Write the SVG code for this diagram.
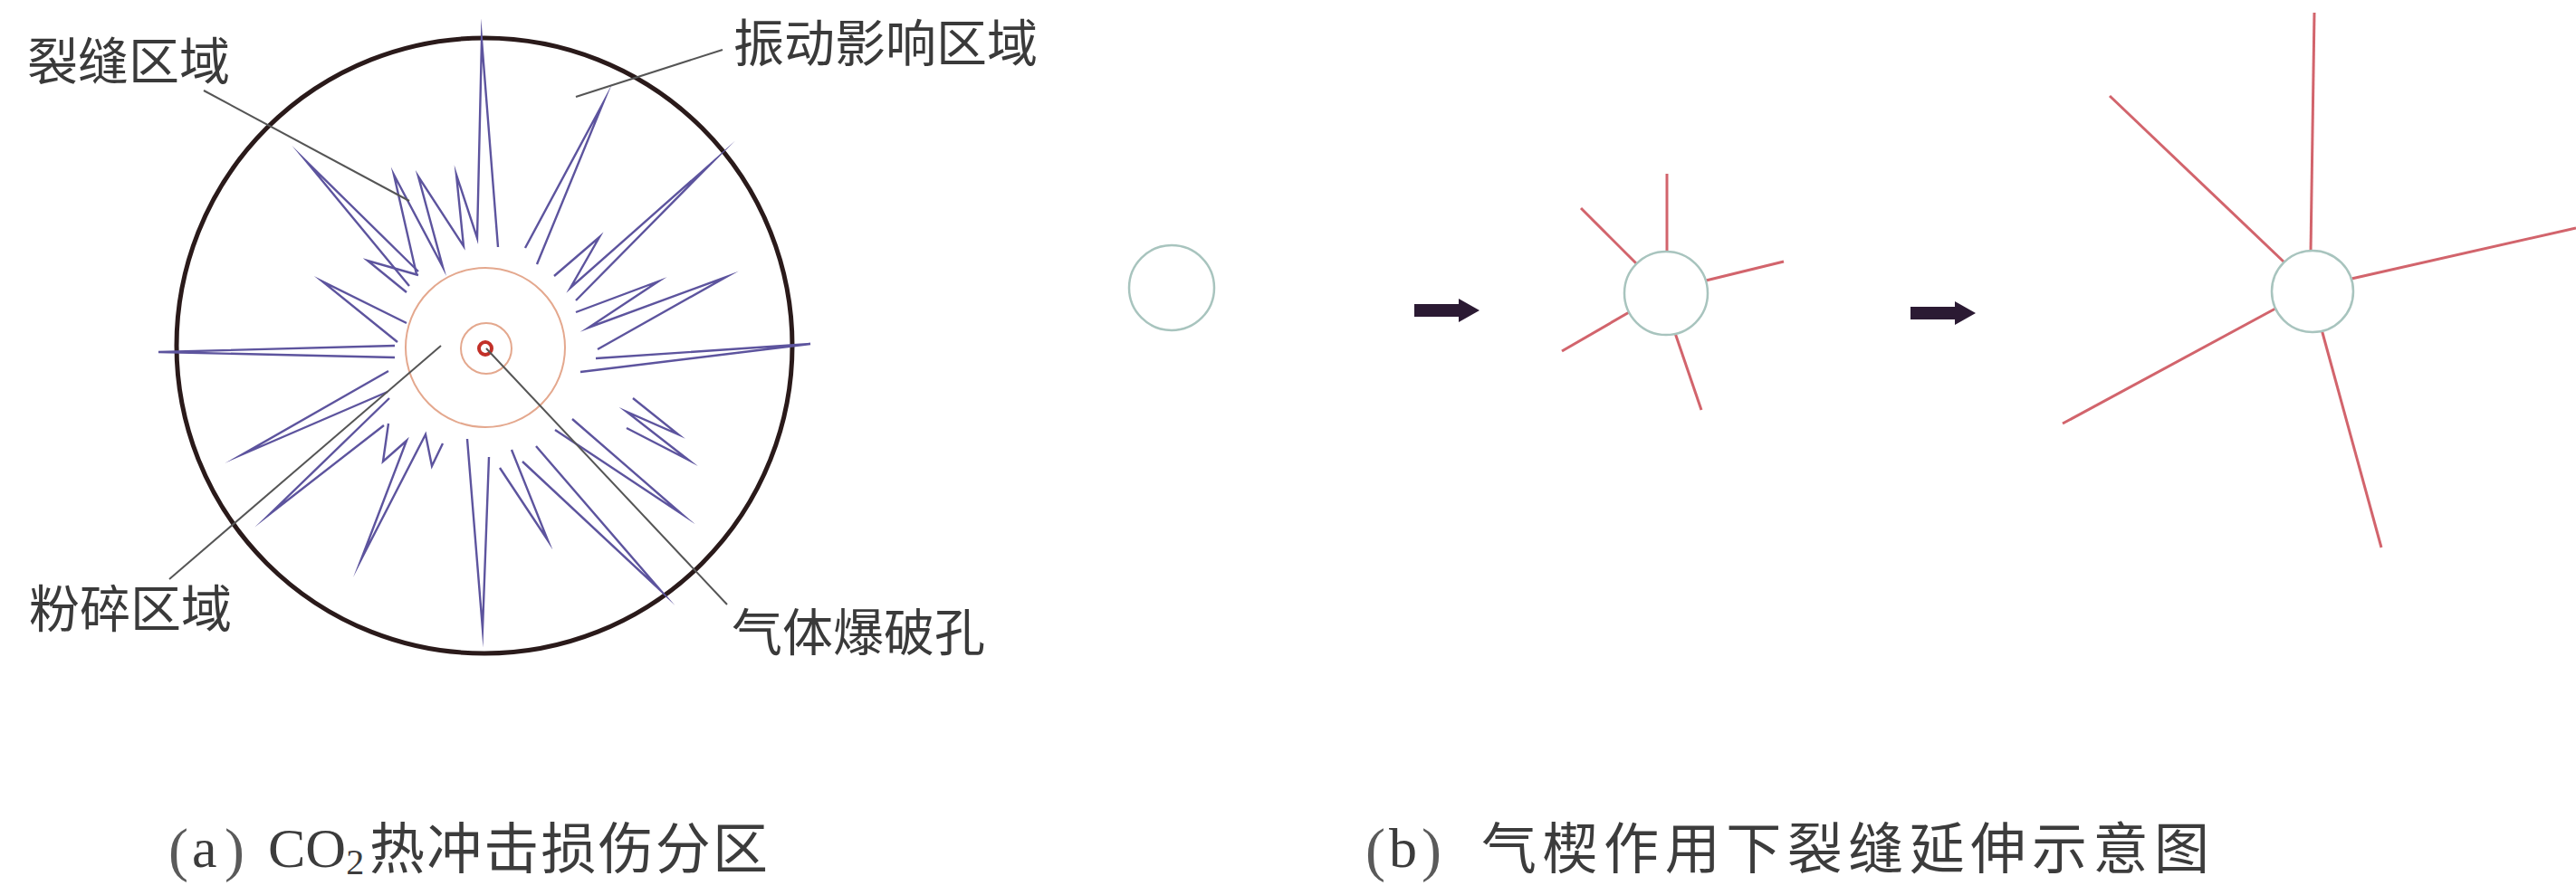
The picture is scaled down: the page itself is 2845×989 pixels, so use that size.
<svg xmlns="http://www.w3.org/2000/svg" width="2845" height="989" viewBox="0 0 2845 989">
  <style>
    .label { font-family: "Noto Sans CJK SC", "Liberation Sans", sans-serif; font-size: 56px; fill: #3a3a3a; }
    .cap { font-family: "Liberation Serif", "Noto Sans CJK SC", serif; font-size: 62px; fill: #3c3c3c; }
    .paren { font-family: "Liberation Serif", serif; font-size: 66px; fill: #5a5a5a; }
    .capcjk { font-family: "Noto Sans CJK SC", sans-serif; font-size: 61px; fill: #3c3c3c; }
    .crack { fill: none; stroke: #5d549e; stroke-width: 2.4; stroke-linejoin: miter; stroke-miterlimit: 30; }
    .leader { fill: none; stroke: #555; stroke-width: 2; }
    .zone { fill: none; stroke: #e4a88e; stroke-width: 2; }
    .hole { fill: #fff; stroke: #a8c4be; stroke-width: 2.5; }
    .wedge { stroke: #d2646c; stroke-width: 3; fill: none; }
    .step { fill: #2b1a33; }
  </style>

  <rect width="2845" height="989" fill="#fff"/>

  <!-- (a) damage zones around the CO2 blast hole -->
  <g id="zone-a">
    <circle id="vibration-boundary" cx="535" cy="382" r="340" fill="none" stroke="#2a1a1a" stroke-width="5"/>
    <g id="cracks">
      <polyline class="crack" points="460,303 435,193 489,295 462,195 512,272 504,193 527,263 532,44 550,273"/>
      <polyline class="crack" points="462,300 338,178 452,316"/>
      <polyline class="crack" points="449,323 406,288 462,304"/>
      <polyline class="crack" points="449,357 356,311 439,378"/>
      <polyline class="crack" points="436,382 175,389 436,395"/>
      <polyline class="crack" points="580,274 666,114 593,292"/>
      <polyline class="crack" points="612,305 662,262 630,318 786,180 636,332"/>
      <polyline class="crack" points="636,345 727,311 650,362 802,306 660,386"/>
      <polyline class="crack" points="658,396 895,380 641,411"/>
      <polyline class="crack" points="429,410 268,502 428,433"/>
      <polyline class="crack" points="430,440 298,568 424,470"/>
      <polyline class="crack" points="429,468 423,510 449,487 399,618 470,480 477,515 489,490"/>
      <polyline class="crack" points="516,485 533,695 540,505"/>
      <polyline class="crack" points="552,517 605,597 565,497"/>
      <polyline class="crack" points="592,493 730,653 577,510"/>
      <polyline class="crack" points="632,463 753,568 613,475"/>
      <polyline class="crack" points="699,440 749,480 692,455 760,508 692,473"/>
    </g>
    <circle id="crush-boundary" class="zone" cx="536" cy="384" r="88"/>
    <circle class="zone" cx="537" cy="385" r="28"/>
    <circle id="blast-hole" cx="536" cy="385" r="7" fill="#fff" stroke="#c23028" stroke-width="4"/>
  </g>

  <g id="label-crack"><text class="label" x="30" y="88">裂缝区域</text></g>
  <g id="label-vibration"><text class="label" x="810" y="68">振动影响区域</text></g>
  <g id="label-crush"><text class="label" x="32" y="693">粉碎区域</text></g>
  <g id="label-hole"><text class="label" x="808" y="719">气体爆破孔</text></g>

  <!-- (b) gas wedging: hole, first cracks, extended cracks -->
  <g id="hole-initial">
    <circle class="hole" cx="1294" cy="318" r="47"/>
  </g>
  <g id="hole-cracked">
    <line class="wedge" x1="1841" y1="280" x2="1841" y2="192"/>
    <line class="wedge" x1="1808" y1="292" x2="1746" y2="230"/>
    <line class="wedge" x1="1884" y1="310" x2="1970" y2="289"/>
    <line class="wedge" x1="1801" y1="344" x2="1725" y2="388"/>
    <line class="wedge" x1="1850" y1="368" x2="1879" y2="453"/>
    <circle class="hole" cx="1840" cy="324" r="46"/>
  </g>
  <g id="hole-extended">
    <line class="wedge" x1="2552" y1="278" x2="2556" y2="14"/>
    <line class="wedge" x1="2523" y1="290" x2="2330" y2="106"/>
    <line class="wedge" x1="2597" y1="308" x2="2845" y2="252"/>
    <line class="wedge" x1="2513" y1="341" x2="2278" y2="468"/>
    <line class="wedge" x1="2564" y1="364" x2="2630" y2="605"/>
    <circle class="hole" cx="2554" cy="322" r="45"/>
  </g>

  <g id="connectors">
    <line class="leader" x1="225" y1="100" x2="452" y2="222"/>
    <line class="leader" x1="798" y1="55" x2="636" y2="107"/>
    <line class="leader" x1="187" y1="640" x2="487" y2="382"/>
    <line class="leader" x1="537" y1="385" x2="803" y2="668"/>
    <path class="step" d="M1562,336 L1611,336 L1611,330 L1634,343 L1611,356 L1611,350 L1562,350 Z"/>
    <path class="step" d="M2110,339 L2159,339 L2159,333 L2182,346 L2159,359 L2159,353 L2110,353 Z"/>
  </g>

  <g id="caption-a">
    <text class="paren" x="186" y="961">(</text>
    <text class="cap" x="212" y="958">a</text>
    <text class="paren" x="248" y="961">)</text>
    <text class="cap" x="296" y="958">CO<tspan font-size="40" dy="8">2</tspan></text>
    <text class="capcjk" x="408" y="960" textLength="440" lengthAdjust="spacing">热冲击损伤分区</text>
  </g>
  <g id="caption-b">
    <text class="paren" x="1508" y="961">(</text>
    <text class="cap" x="1534" y="958">b</text>
    <text class="paren" x="1570" y="961">)</text>
    <text class="capcjk" x="1636" y="960" textLength="804" lengthAdjust="spacing">气楔作用下裂缝延伸示意图</text>
  </g>
</svg>
